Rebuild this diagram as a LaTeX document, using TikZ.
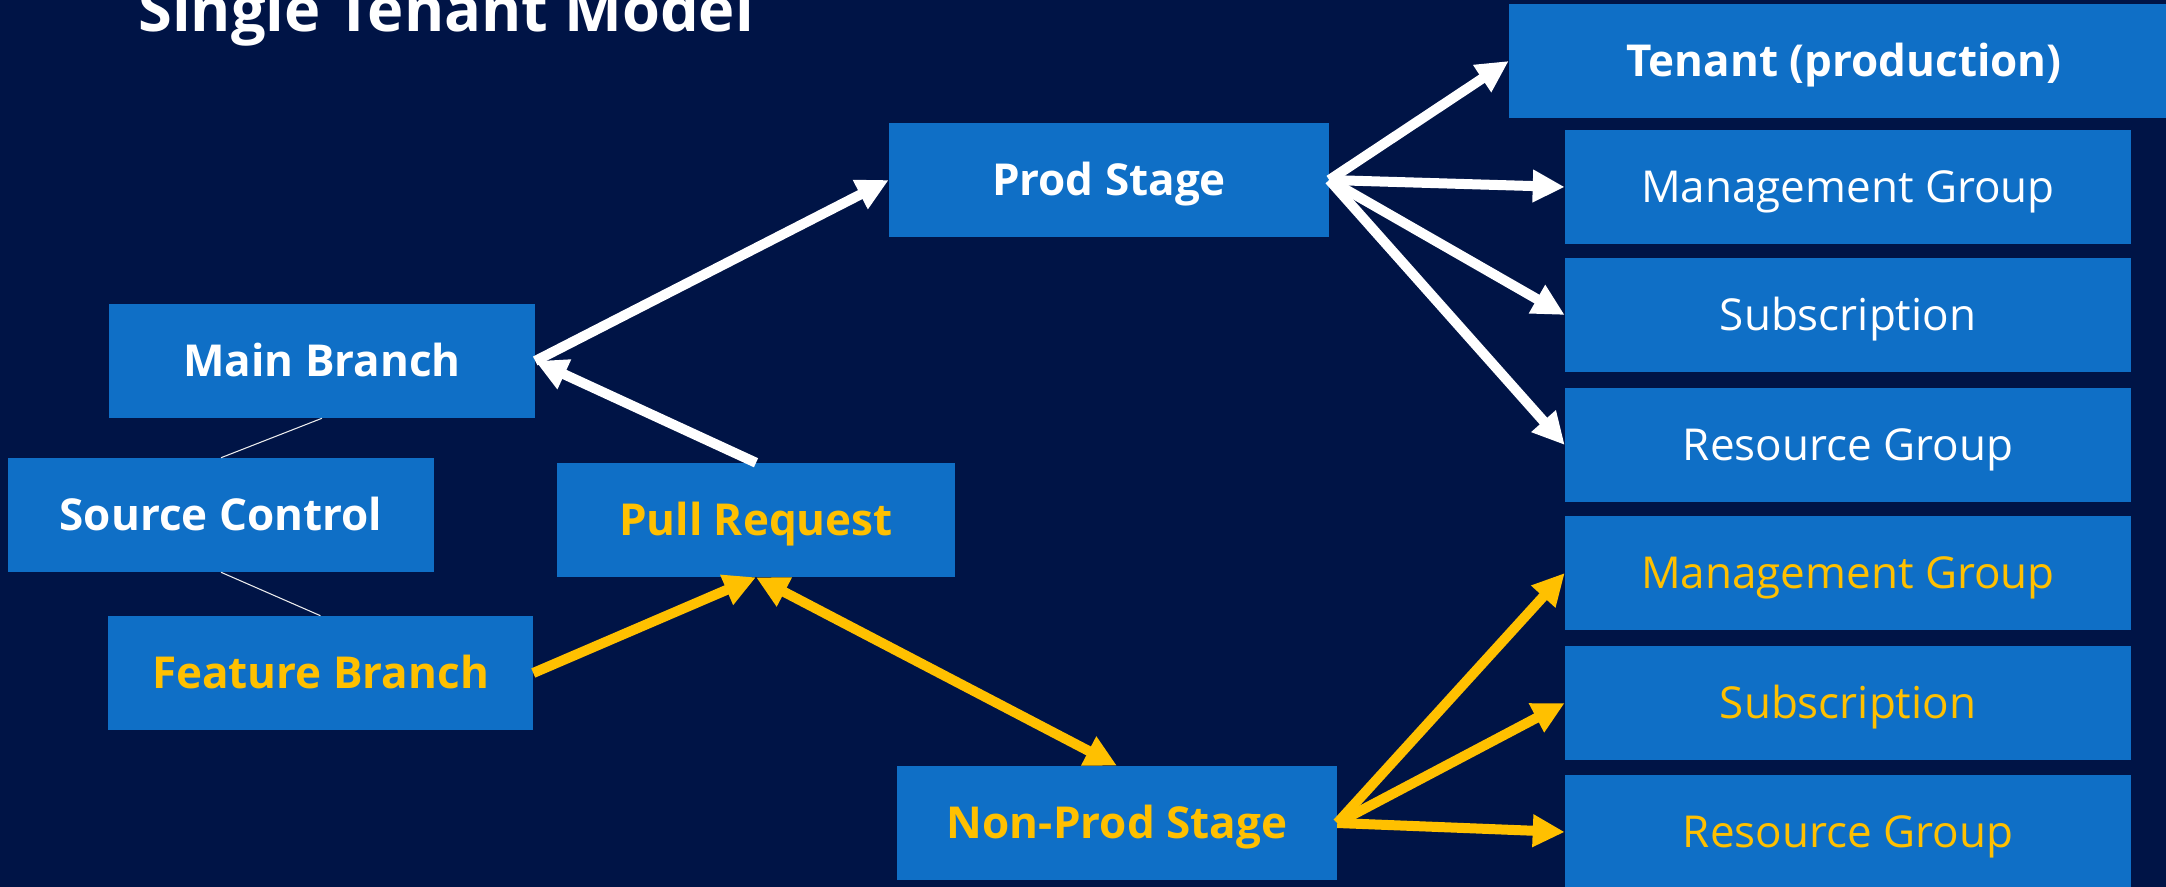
\documentclass[tikz,border=0pt]{standalone}
\usepackage{fontspec}
\setmainfont{Open Sans}
\usetikzlibrary{arrows.meta}
\definecolor{bgnavy}{HTML}{001446}
\definecolor{boxblue}{HTML}{0F6FC6}
\definecolor{goldy}{HTML}{FFC000}
\newcommand\mybox[7]{\node[#7, minimum width={(#4-#2)*0.75pt}, minimum height={(#5-#3)*0.75pt}] (#1) at ({(#2+#4)/2},{(#3+#5)/2}) {#6};}
\tikzset{
  box/.style={fill=boxblue, inner sep=0pt, text height=24pt, text depth=1pt, text=white, font=\fontsize{33}{38}\selectfont},
  boldbox/.style={box, font=\fontsize{33}{38}\selectfont\bfseries},
  ybox/.style={box, text=goldy},
  yboldbox/.style={boldbox, text=goldy},
  warr/.style={draw=white, line width=7.5pt, -{Triangle[length=24pt,width=23pt]}},
  yarr/.style={draw=goldy, line width=7.5pt, -{Triangle[length=24pt,width=23pt]}},
  thinline/.style={draw=white!85!gray, line width=0.8pt}
}
\begin{document}
\begin{tikzpicture}[x=0.75pt,y=-0.75pt]
\useasboundingbox (0,0) rectangle (2166,887);
\fill[bgnavy] (0,0) rectangle (2166,887);
\clip (0,0) rectangle (2166,887);
\node[anchor=base west, inner sep=0pt, text=white, font=\fontsize{46}{52}\selectfont\bfseries] (title) at (138,32) {Single Tenant Model};
\mybox{main}{109}{304}{535}{418}{Main Branch}{boldbox}
\mybox{src}{8}{458}{434}{572}{Source Control}{boldbox}
\mybox{feat}{108}{616}{533}{730}{Feature Branch}{yboldbox}
\mybox{pr}{557}{463}{955}{577}{Pull Request}{yboldbox}
\mybox{prod}{889}{123}{1329}{237}{Prod Stage}{boldbox}
\mybox{nonprod}{897}{766}{1337}{880}{Non-Prod Stage}{yboldbox}
\mybox{tenant}{1509}{4}{2179}{118}{Tenant (production)}{boldbox}
\mybox{mgw}{1565}{130}{2131}{244}{Management Group}{box}
\mybox{subw}{1565}{258}{2131}{372}{Subscription}{box}
\mybox{rgw}{1565}{388}{2131}{502}{Resource Group}{box}
\mybox{mgy}{1565}{516}{2131}{630}{Management Group}{ybox}
\mybox{suby}{1565}{646}{2131}{760}{Subscription}{ybox}
\mybox{rgy}{1565}{775}{2131}{889}{Resource Group}{ybox}
\draw[thinline] (main.south) -- (src.north);
\draw[thinline] (src.south) -- (feat.north);
\draw[warr] (main.east) -- (prod.west);
\draw[warr] (pr.north) -- (main.east);
\draw[warr] (prod.east) -- (tenant.west);
\draw[warr] (prod.east) -- (mgw.west);
\draw[warr] (prod.east) -- (subw.west);
\draw[warr] (prod.east) -- (rgw.west);
\draw[yarr] (feat.east) -- (pr.south);
\draw[yarr, {Triangle[length=24pt,width=23pt]}-{Triangle[length=24pt,width=23pt]}] (pr.south) -- (nonprod.north);
\draw[yarr] (nonprod.east) -- (mgy.west);
\draw[yarr] (nonprod.east) -- (suby.west);
\draw[yarr] (nonprod.east) -- (rgy.west);
\end{tikzpicture}
\end{document}
